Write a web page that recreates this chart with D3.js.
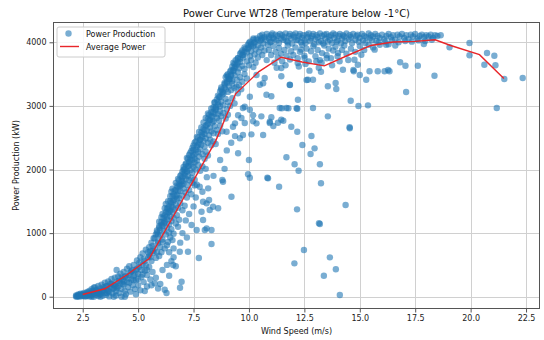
<!DOCTYPE html>
<html><head><meta charset="utf-8">
<script src="https://cdn.jsdelivr.net/npm/d3@7"></script>
<style>
html,body{margin:0;padding:0;background:#fff;}
svg{display:block;font-family:"DejaVu Sans",sans-serif;}
</style></head>
<body><svg id="chart" width="544" height="340"></svg>
<script>
const chartTitle = "Power Curve WT28 (Temperature below -1°C)";
const xLabel = "Wind Speed (m/s)";
const yLabel = "Power Production (kW)";
const seriesNames = ["Power Production", "Average Power"];
const xTicks = [2.5, 5.0, 7.5, 10.0, 12.5, 15.0, 17.5, 20.0, 22.5];
const yTicks = [0, 1000, 2000, 3000, 4000];

// Average power curve [wind speed, kW]
const averageWind = [2.5, 3.5, 4.5, 5.5, 6.5, 7.5, 8.5, 9.4, 10.45, 11.45, 12.4, 13.4, 14.5, 15.5, 16.5, 17.5, 18.4, 19.1, 20.4, 21.5];
const averagePower = [35, 125, 345, 600, 1210, 1830, 2450, 3190, 3540, 3765, 3690, 3630, 3800, 3950, 4005, 4015, 4040, 3950, 3805, 3430];

// Scatter: [wind speed, kW]
const lowWindPoints = [[2.2,5],[2.2,20],[2.25,0],[2.3,12],[2.3,35],[2.35,3],[2.4,25],[2.4,48],[2.45,8],[2.5,15],[2.5,40],[2.55,60],[2.6,2],[2.6,30],[2.65,52],[2.7,10],[2.7,75],[2.75,40],[2.8,5],[2.8,90],[2.85,60],[2.9,20],[2.9,120],[2.95,45],[3.0,0],[3.0,80],[3.05,150],[3.1,30],[3.1,100],[3.15,60],[3.2,10],[3.2,170],[3.25,85],[3.3,40],[3.3,130],[3.35,190],[3.4,15],[3.4,95],[3.45,150],[3.5,60],[3.5,220],[3.55,30],[3.6,110],[3.6,170],[3.65,240],[3.7,5],[3.7,80],[3.75,150],[3.8,210],[3.8,280],[3.85,50],[3.9,130],[3.9,190],[3.95,300],[4.0,20],[4.0,90],[4.05,240],[4.03,420],[4.1,160],[4.1,320],[4.15,60],[4.2,210],[4.2,360],[4.25,0],[4.25,120],[4.3,270],[4.35,190],[4.35,390],[4.4,90],[4.4,310],[4.45,40],[4.5,230],[4.5,440],[4.55,150],[4.6,340],[4.6,480],[4.65,80],[4.7,270],[4.7,400],[4.75,180],[4.8,500],[4.8,330],[4.85,120],[4.9,420],[4.9,260],[4.95,570],[5.0,180],[5.0,360],[5.05,470],[5.1,620],[5.1,100],[5.15,310],[5.2,500],[5.2,680],[5.25,230],[5.3,410],[5.3,560],[5.35,740],[5.4,160],[5.4,340],[5.45,620],[5.5,470],[5.5,780],[5.55,270],[5.6,560],[5.6,850],[5.65,390],[5.7,690],[5.7,920],[5.75,210],[5.8,610],[5.8,980],[5.5,650],[5.55,720],[5.65,800],[5.75,760],[5.85,700],[5.9,840],[5.95,640],[6.0,780],[6.05,700],[6.1,860],[6.2,760],[6.3,810],[6.4,700],[5.8,300],[6.0,200],[6.2,110],[5.9,130],[6.1,420],[6.3,500],[6.5,560],[6.4,330],[5.6,180],[6.7,480],[6.6,620],[6.58,498],[6.28,58],[6.89,140],[6.96,236],[4.9,40],[5.3,90],[4.4,0],[3.9,0],[3.3,0],[2.9,0],
[2.25,15],[2.35,28],[2.45,35],[2.55,20],[2.65,12],[2.75,65],[2.85,30],[2.95,90],[3.05,55],[3.15,110],[3.25,40],[3.35,75],[3.45,110],[3.55,160],[3.65,90],[3.75,200],[3.85,130],[3.95,180],[4.05,140],[4.15,250],[4.25,300],[4.35,240],[4.45,330],[4.55,290],[4.65,380],[4.75,420],[4.85,350],[4.95,440],[5.05,530],[5.15,420],[5.25,590],[5.35,500],[5.45,700],[5.55,620],[5.65,720],[3.0,140],[3.2,60],[3.6,60],[4.0,160],[4.3,200],[4.6,220],[4.8,260],[5.0,280],[5.2,350],[5.4,420]];

const rampPoints = [[5.75,920],[5.85,1010],[5.9,870],[5.95,1080],[6.0,960],[6.05,1130],[6.1,900],[6.15,1040],[6.2,1170],[6.25,980],[6.3,1090],[6.35,860],[6.4,1010],[6.45,930],[6.5,1060],[6.55,890],[6.6,990],
[5.95,1180],[6.05,1250],[6.1,1300],[6.15,1150],[6.2,1280],[6.3,1220],[6.35,1320],[6.4,1140],[6.45,1260],[6.5,1190],[6.55,1330],[6.6,1240],[6.7,1150],[6.75,1280],[6.85,1210],
[6.2,1390],[6.25,1460],[6.3,1380],[6.35,1500],[6.4,1420],[6.45,1350],[6.5,1480],[6.55,1410],[6.6,1520],[6.65,1370],[6.7,1450],[6.75,1540],[6.8,1400],[6.9,1470],[7.0,1360],[7.1,1430],
[6.45,1580],[6.5,1650],[6.55,1700],[6.6,1610],[6.7,1680],[6.75,1600],[6.8,1730],[6.85,1550],[6.9,1660],[6.95,1760],[7.0,1590],[7.05,1700],[7.15,1640],[7.2,1560],[7.3,1680],[7.4,1610],
[6.7,1790],[6.8,1850],[6.85,1760],[6.9,1900],[6.95,1820],[7.0,1880],[7.05,1780],[7.1,1940],[7.15,1850],[7.2,1760],[7.25,1900],[7.3,1830],[7.4,1870],[7.45,1790],[7.55,1840],[7.65,1760],
[7.0,1970],[7.05,2040],[7.1,2000],[7.15,2090],[7.2,1960],[7.25,2060],[7.3,2120],[7.35,1990],[7.4,2080],[7.45,1950],[7.5,2040],[7.55,2110],[7.6,2000],[7.7,2070],[7.8,1980],[7.9,2050],[8.05,2010],
[7.2,2180],[7.3,2230],[7.35,2160],[7.4,2290],[7.45,2210],[7.5,2310],[7.55,2170],[7.6,2250],[7.65,2140],[7.7,2280],[7.75,2200],[7.8,2320],[7.9,2240],[8.0,2170],[8.05,2280],[8.15,2220],
[7.5,2380],[7.6,2440],[7.65,2360],[7.7,2500],[7.75,2410],[7.8,2470],[7.85,2390],[7.9,2520],[7.95,2450],[8.0,2360],[8.05,2490],[8.15,2420],[8.25,2470],[8.3,2380],[8.4,2440],[8.5,2400],
[7.85,2580],[7.95,2640],[8.0,2560],[8.05,2690],[8.1,2610],[8.15,2720],[8.2,2540],[8.25,2660],[8.3,2600],[8.35,2740],[8.4,2570],[8.45,2680],[8.55,2620],[8.6,2560],[8.7,2690],[8.8,2600],
[8.15,2800],[8.2,2860],[8.25,2780],[8.3,2900],[8.35,2830],[8.4,2760],[8.45,2880],[8.5,2940],[8.55,2810],[8.6,2870],[8.65,2770],[8.7,2920],[8.75,2840],[8.85,2890],[8.95,2800],[9.05,2860],
[8.4,2980],[8.45,3050],[8.5,2960],[8.55,3100],[8.6,3020],[8.65,3140],[8.7,2990],[8.75,3070],[8.8,3180],[8.85,3010],[8.95,3110],[9.0,2950],[9.05,3060],[9.15,3000],[9.25,3120],[9.35,3040],
[8.7,3230],[8.75,3290],[8.85,3200],[8.9,3340],[8.95,3260],[9.0,3380],[9.05,3220],[9.1,3310],[9.15,3420],[9.2,3250],[9.25,3350],[9.35,3280],[9.44,3302],[9.5,3200],[9.55,3330],[9.65,3260],
[5.9,980],[6.0,1050],[6.1,1110],[6.2,1190],[6.3,1260],[6.4,1330],[6.5,1420],[6.6,1500],[6.7,1580],[6.8,1660],[6.9,1740],[7.0,1820],[7.1,1900],[7.2,1980],[7.3,2060],[7.4,2150],[7.5,2230],[7.6,2310],[7.7,2390],[7.8,2470],[7.9,2550],[8.0,2620],[8.1,2700],[8.2,2770],[8.3,2840],[8.4,2900],[8.5,2980],[8.6,3060],[8.7,3140],[8.8,3220],[8.9,3290],[9.0,3360],[9.1,3420],[9.2,3490],[9.3,3550],[9.4,3620],[9.5,3680],[9.6,3740],[9.7,3800],[9.8,3850],[9.95,3900],[10.1,3950],[10.25,4000],[10.4,4040],
[5.85,1040],[5.95,1110],[6.05,1170],[6.15,1240],[6.25,1330],[6.35,1400],[6.45,1500],[6.55,1580],[6.65,1670],[6.75,1750],[6.85,1830],[6.95,1920],[7.05,2000],[7.15,2080],[7.25,2170],[7.35,2260],[7.45,2340],[7.55,2420],[7.65,2510],[7.75,2590],[7.85,2660],[7.95,2740],[8.05,2810],[8.15,2880],[8.3,2960],[8.45,3060],[8.6,3160],[8.75,3260],[8.9,3360],[9.05,3460],[9.2,3560],[9.35,3660],[9.5,3750],[9.65,3840],[9.8,3920],[10.0,3990],[10.2,4060]];

const kneePoints = [[8.95,3450],[9.0,3480],[9.05,3500],[9.1,3420],[9.15,3540],[9.2,3470],[9.25,3390],[9.3,3560],[9.35,3480],[9.45,3410],[9.5,3530],[9.6,3450],[9.7,3380],[9.8,3500],[9.9,3430],
[9.25,3620],[9.3,3680],[9.35,3600],[9.4,3720],[9.45,3650],[9.5,3750],[9.55,3590],[9.6,3690],[9.7,3630],[9.75,3760],[9.8,3580],[9.9,3700],[10.0,3640],[10.1,3720],[10.2,3610],[10.3,3680],
[9.6,3820],[9.7,3870],[9.75,3800],[9.85,3900],[9.9,3840],[10.0,3920],[10.05,3780],[10.1,3860],[10.2,3940],[10.25,3810],[10.3,3890],[10.4,3760],[10.45,3850],[10.55,3920],[10.6,3800],[10.7,3870],
[9.95,3960],[10.05,4010],[10.1,3970],[10.2,4040],[10.25,3990],[10.35,4060],[10.4,3950],[10.5,4020],[10.6,4070],[10.65,3980],[10.75,4040],[10.85,3960],[10.9,4090],[11.0,4010]];

const plateauPoints = [[10.5,4100],[10.6,4120],[10.7,4080],[10.8,4130],[10.9,4060],[11.0,4110],[11.05,4140],[11.1,4070],[11.2,4120],[11.25,4030],[11.3,4100],[11.4,4130],[11.45,4060],[11.5,4110],[11.6,4080],[11.65,4140],[11.7,4020],[11.8,4100],[11.85,4130],[11.9,4060],[12.0,4110],[12.05,4080],[12.1,4140],[12.2,4040],[12.25,4100],[12.3,4130],[12.4,4070],[12.45,4110],[12.5,4030],[12.6,4120],[12.65,4080],[12.7,4140],[12.8,4060],[12.85,4100],[12.9,4130],[13.0,4050],[13.05,4110],[13.1,4080],[13.2,4140],[13.25,4020],[13.3,4100],[13.4,4120],[13.45,4060],[13.5,4130],[13.6,4090],[13.65,4040],[13.7,4110],[13.8,4140],[13.85,4070],[13.9,4120],[14.0,4030],[14.05,4100],[14.1,4130],[14.2,4060],[14.25,4110],[14.3,4090],[14.4,4140],[14.5,4050],[14.55,4110],[14.6,4080],[14.7,4130],[14.8,4040],[14.85,4100],[14.9,4120],[15.0,4070],[15.1,4130],[15.15,4030],[15.2,4100],[15.3,4080],[15.4,4140],[15.45,4060],[15.5,4110],[15.6,4090],[15.7,4130],[15.75,4020],[15.8,4100],[15.9,4070],[16.0,4120],[16.1,4050],[16.2,4100],[16.3,4130],[16.4,4080],[16.5,4110],[16.6,4040],[16.7,4120],[16.8,4090],[16.9,4130],[17.0,4070],[17.1,4110],[17.2,4050],[17.3,4120],[17.4,4090],[17.5,4130],[17.6,4060],[17.7,4100],[17.8,4120],[17.9,4080],[18.0,4110],[18.1,4090],[18.2,4120],[18.3,4070],[18.4,4110],[18.5,4100],[18.65,4110],
[10.55,4040],[10.95,4000],[11.15,4050],[11.35,3990],[11.55,4040],[11.75,4000],[11.95,3980],[12.15,4030],[12.35,4000],[12.55,3990],[12.75,4020],[12.95,3970],[13.15,4000],[13.35,3980],[13.55,4010],[13.75,3990],[13.95,4010],[14.15,3980],[14.35,4020],[14.65,3990],[14.95,4010],[15.25,3990],[15.55,4030],[15.85,4000],[16.15,4010],[16.45,4030],[16.75,4000],[17.05,4020],[17.35,4010],[17.65,4030],[17.95,4020],[18.25,4040],
[10.8,3720],[10.9,3880],[11.0,3800],[11.1,3940],[11.15,3680],[11.2,3850],[11.3,3760],[11.35,3910],[11.45,3820],[11.5,3700],[11.6,3880],[11.7,3790],[11.75,3950],[11.85,3730],[11.9,3860],[12.0,3800],[12.1,3920],[12.2,3750],[12.3,3850],[12.4,3960],[12.5,3790],[12.6,3900],[12.7,3700],[12.8,3860],[12.9,3940],[13.0,3780],[13.1,3880],[13.2,3720],[13.3,3830],[13.4,3950],[13.5,3800],[13.6,3900],[13.7,3750],[13.8,3870],[13.9,3930],[14.0,3780],[14.2,3880],[14.3,3950],[14.4,3820],[14.6,3900],[14.8,3850],[15.0,3940],[15.2,3880],[15.4,3960],[15.6,3920],[15.9,3960],[16.3,3970],[16.6,3950],[12.25,3620],[12.55,3660],[13.15,3600],[13.75,3640],[11.25,3600],[11.65,3640]];

const outlierPoints = [[16.82,3686],[17.06,3632],[17.62,3632],[18.37,3475],[17.09,3219],[16.34,3544],[17.89,3973],[19.05,3921],[19.95,3989],[19.95,3796],[20.74,3832],[21.07,3789],[20.62,3648],[21.12,3638],[21.52,3423],[22.35,3439],[21.18,2967],
[12.2,3675],[12.73,3554],[13.04,3701],[12.66,3412],[12.89,3412],[13.56,3308],[13.91,3360],[13.94,3266],[14.24,3569],[14.73,3544],[15.29,3412],[15.81,3544],[16.12,3544],[15.44,3544],[14.59,3082],[15.37,3009],[14.94,2998],[12.18,2956],[12.89,2967],[13.56,2836],[14.54,2664],[16.19,3962],[15.67,3884],[15.07,3805],[14.02,3832],[14.09,3701],[14.76,3726],[14.91,3648],[12.36,3884],[12.51,3753],[11.48,2962],[11.78,2962],[12.15,2962],[12.6,3407],[11.85,3329],[13.25,3538],[14.71,3565],[15.0,3486],[16.28,3565],[13.28,3679],[13.51,3748],[14.48,3722],
[10.49,3333],[10.79,3176],[11.01,3151],[11.46,3465],[11.84,3333],[11.39,2967],[11.69,2967],[9.73,2967],[10.04,2940],[9.51,2852],[9.66,2810],[10.19,2852],[10.19,2758],[10.56,2836],[11.01,2821],[10.94,2731],[11.46,2783],[9.81,2731],[12.21,3097],[11.46,3596],[10.71,3439],[9.81,2987],[10.34,3486],[10.04,3145],[10.64,3355],
[9.37,2525],[9.73,2542],[10.11,2553],[10.64,2542],[9.51,2255],[10.0,2150],[9.96,1925],[10.04,1871],[10.83,1871],[11.36,1730],[8.83,1808],[12.17,1374],[8.61,1390],[8.23,1363],[7.93,1494],[8.16,1704],[8.31,1049],[8.01,1049],[8.31,829],[12.48,734],[12.05,525],[13.16,1154],[11.69,2192],[12.06,2082],[12.24,1981],[11.31,2736],[11.91,2673],[12.18,2594],[12.41,2385],[12.78,2244],[12.82,2527],[12.96,2333],[9.37,2726],[10.34,2726],[10.94,2752],[11.1,2684],[11.55,2767],[14.55,2648],[13.2,2082],[13.25,1783],[14.36,1442],[13.2,1143],[13.65,619],[13.92,431],[13.38,330],[14.1,27],[9.28,2673],[9.59,2491],[8.99,2594],[10.86,1861],[7.78,1730],[8.38,1415],[8.09,1468],[7.86,1336],[7.93,1206],[7.41,1127],[7.64,1049],[8.09,1075],[7.74,608],[7.25,708],[6.88,708],[8.2,1520],[8.8,1835],[9.21,1572],[6.6,760],[6.9,850],[7.2,930],[7.0,1000],[6.8,1100],[7.3,1300],[7.5,1420],[7.6,1560],[7.9,1650],[8.4,1900],[8.7,2150],[9.0,2300],[9.2,2420],[8.9,2010],[7.15,1200],[7.55,1750],[8.1,1880]];

const svg = d3.select("#chart");
const W = 544, H = 340;
const m = {left: 53, right: 540, top: 22, bottom: 309};

const x = d3.scaleLinear().domain([1.16, 23.13]).range([m.left, m.right]);
const y = d3.scaleLinear().domain([-193, 4319]).range([m.bottom, m.top]);

svg.append("rect").attr("width", W).attr("height", H).attr("fill", "#fff");

// grid
const grid = svg.append("g").attr("stroke", "#d0d0d0").attr("stroke-width", 1);
grid.selectAll("line.gx").data(xTicks).join("line")
  .attr("x1", d => Math.round(x(d)) + 0.5).attr("x2", d => Math.round(x(d)) + 0.5)
  .attr("y1", m.top).attr("y2", m.bottom);
grid.selectAll("line.gy").data(yTicks).join("line")
  .attr("y1", d => Math.round(y(d)) + 0.5).attr("y2", d => Math.round(y(d)) + 0.5)
  .attr("x1", m.left).attr("x2", m.right);

// scatter
const allPoints = [].concat(lowWindPoints, rampPoints, kneePoints, plateauPoints, outlierPoints);
svg.append("g").selectAll("circle").data(allPoints).join("circle")
  .attr("cx", d => x(d[0])).attr("cy", d => y(d[1])).attr("r", 3.2)
  .attr("fill", "#1f77b4").attr("fill-opacity", 0.6);

// average line
const avg = averageWind.map((w, i) => [w, averagePower[i]]);
svg.append("path").datum(avg)
  .attr("d", d3.line().x(d => x(d[0])).y(d => y(d[1])))
  .attr("fill", "none").attr("stroke", "#e8262a").attr("stroke-width", 1.4);

// axes
const xAxis = svg.append("g").attr("transform", `translate(0,${m.bottom})`)
  .call(d3.axisBottom(x).tickValues(xTicks).tickFormat(d3.format(".1f")).tickSize(3.5).tickPadding(3));
const yAxis = svg.append("g").attr("transform", `translate(${m.left},0)`)
  .call(d3.axisLeft(y).tickValues(yTicks).tickFormat(d3.format("d")).tickSize(3.5).tickPadding(3));
[xAxis, yAxis].forEach(a => {
  a.select(".domain").remove();
  a.selectAll("line").attr("stroke", "#555");
  a.selectAll("text").attr("font-family", "DejaVu Sans").attr("font-size", 8).attr("fill", "#222");
});

// frame
svg.append("rect").attr("x", m.left + 0.5).attr("y", m.top + 0.5)
  .attr("width", m.right - m.left - 1).attr("height", m.bottom - m.top - 1)
  .attr("fill", "none").attr("stroke", "#555").attr("stroke-width", 1);

// labels
svg.append("text").attr("x", (m.left + m.right) / 2).attr("y", 17)
  .attr("text-anchor", "middle").attr("font-size", 10).attr("fill", "#111").text(chartTitle);
svg.append("text").attr("x", (m.left + m.right) / 2).attr("y", 334)
  .attr("text-anchor", "middle").attr("font-size", 8).attr("fill", "#111").text(xLabel);
svg.append("text").attr("transform", `translate(19,${(m.top + m.bottom) / 2}) rotate(-90)`)
  .attr("text-anchor", "middle").attr("font-size", 8).attr("fill", "#111").text(yLabel);

// legend
const lg = svg.append("g");
lg.append("rect").attr("x", 57).attr("y", 27).attr("width", 108).attr("height", 30).attr("rx", 2)
  .attr("fill", "#fff").attr("fill-opacity", 0.85).attr("stroke", "#ccc");
lg.append("circle").attr("cx", 68.5).attr("cy", 33.5).attr("r", 3.2).attr("fill", "#1f77b4").attr("fill-opacity", 0.6);
lg.append("line").attr("x1", 60).attr("x2", 79).attr("y1", 46.5).attr("y2", 46.5)
  .attr("stroke", "#e8262a").attr("stroke-width", 1.4);
lg.append("text").attr("x", 86).attr("y", 36.5).attr("font-size", 8).attr("fill", "#111").text(seriesNames[0]);
lg.append("text").attr("x", 86).attr("y", 50).attr("font-size", 8).attr("fill", "#111").text(seriesNames[1]);
</script></body></html>
